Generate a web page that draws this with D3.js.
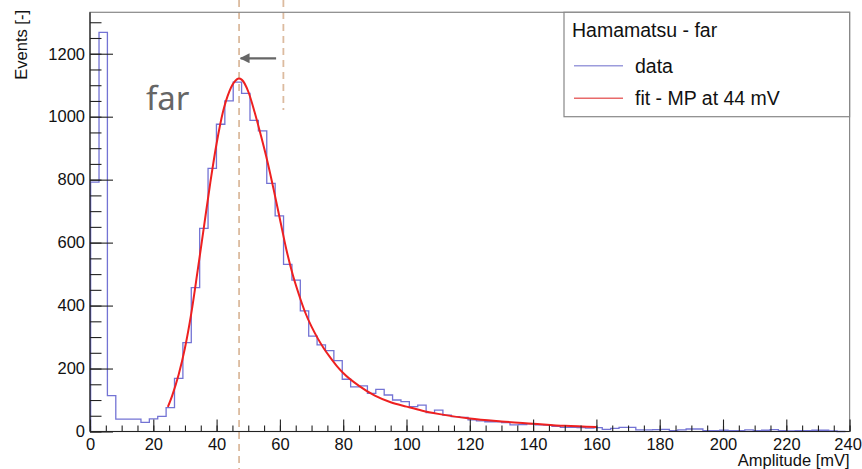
<!DOCTYPE html>
<html>
<head>
<meta charset="utf-8">
<script src="https://cdn.jsdelivr.net/npm/d3@7"></script>
<style>
  body { margin: 0; background: #fff; }
  text { font-family: "Liberation Sans", Arial, Helvetica, sans-serif; }
</style>
</head>
<body>
<script>
// histogram: bins of 2.65 mV starting at 0.2 mV
let binStart = 0.2,
    binWidth = 2.65;

let counts = [
  792, 1268, 114, 39, 39, 39, 29, 40, 48, 76,
  169, 282, 457, 645, 836, 976, 1050, 1110, 1074, 988,
  955, 788, 685, 531, 481, 383, 303, 275, 257, 225,
  166, 142, 145, 121, 134, 116, 100, 95, 79, 84,
  60, 68, 52, 47, 45, 37, 34, 31, 31, 28,
  21, 22, 24, 21, 20, 16, 13, 13, 12, 11,
  12, 7, 10, 13, 13, 5, 5, 6, 7, 3,
  5, 8, 8, 3, 3, 4, 3, 3, 5, 3,
  4, 6, 3, 2, 3, 3, 4, 4, 2, 0
];

// fit curve
let fitX = [24.6, 26, 28, 30, 32, 34, 36, 38, 40, 42, 44, 46, 47, 48, 50, 52, 54, 56, 58, 60,
            62, 64, 66, 68, 70, 72, 74, 76, 78, 80, 85, 90, 95, 100, 105, 110, 120, 130, 140, 150, 160];
let fitY = [78, 115, 180, 265, 375, 510, 650, 790, 915, 1015, 1080, 1115, 1121, 1117, 1080, 1015, 940, 860, 770, 675,
            580, 500, 435, 378, 333, 295, 262, 234, 208, 186, 145, 114, 93, 79, 66, 56, 41, 32, 25, 18, 14];

let xTicks = d3.range(0, 241, 20),
    xMinor = d3.range(0, 241, 5),
    yTicks = d3.range(0, 1201, 200),
    yMinor = d3.range(0, 1331, 50);

// markers: peak position and the old position (mV)
let markPeak = 47.1,
    markOld = 61.1;

let legendTitle = 'Hamamatsu - far',
    legendItems = ['data', 'fit - MP at 44 mV'];

let width = 862,
    height = 469,
    yMax = 1331.6;

let x = d3.scaleLinear().domain([0, 240]).range([90, 849.6]),
    y = d3.scaleLinear().domain([0, yMax]).range([431.5, 12.3]);

let svg = d3.select('body').append('svg')
    .attr('width', width)
    .attr('height', height);

// dashed marker lines
svg.append('line')
    .attr('x1', x(markPeak)).attr('x2', x(markPeak))
    .attr('y1', 0).attr('y2', height)
    .attr('stroke', '#dcbb9f').attr('stroke-width', 1.8)
    .attr('stroke-dasharray', '7,5');
svg.append('line')
    .attr('x1', x(markOld)).attr('x2', x(markOld))
    .attr('y1', 0).attr('y2', 110)
    .attr('stroke', '#dcbb9f').attr('stroke-width', 1.8)
    .attr('stroke-dasharray', '7,5');

// frame
svg.append('rect')
    .attr('x', x(0)).attr('y', y(yMax))
    .attr('width', x(240) - x(0)).attr('height', y(0) - y(yMax))
    .attr('fill', 'none').attr('stroke', '#888').attr('stroke-width', 1.2);

// histogram as a step path
let histPts = [[x(binStart), y(0)]];
counts.forEach((c, i) => {
    let lo = binStart + i * binWidth, hi = lo + binWidth;
    histPts.push([x(lo), y(c)], [x(hi), y(c)]);
});
histPts.push([x(binStart + counts.length * binWidth), y(0)]);

svg.append('path')
    .attr('d', d3.line()(histPts))
    .attr('fill', 'none')
    .attr('stroke', '#5a5acc')
    .attr('stroke-opacity', 0.85)
    .attr('stroke-width', 1.3);

// fit
svg.append('path')
    .datum(fitX.map((v, i) => [v, fitY[i]]))
    .attr('d', d3.line().x(d => x(d[0])).y(d => y(d[1])).curve(d3.curveMonotoneX))
    .attr('fill', 'none')
    .attr('stroke', '#ee2020')
    .attr('stroke-width', 2);

// axes
svg.append('g')
    .attr('transform', `translate(${x(0)},0)`)
    .call(d3.axisLeft(y).tickValues(yTicks).tickFormat(d3.format('d'))
        .tickSizeInner(-23).tickSizeOuter(0).tickPadding(5));
svg.append('g')
    .attr('transform', `translate(${x(0)},0)`)
    .call(d3.axisLeft(y).tickValues(yMinor).tickSizeInner(-11.5).tickSizeOuter(0).tickFormat(''));

let xAxis = svg.append('g')
    .attr('transform', `translate(0,${y(0)})`)
    .call(d3.axisBottom(x).tickValues(xTicks).tickFormat(d3.format('d'))
        .tickSizeInner(-12).tickSizeOuter(0).tickPadding(6.5));
svg.append('g')
    .attr('transform', `translate(0,${y(0)})`)
    .call(d3.axisBottom(x).tickValues(xMinor).tickSizeInner(-6).tickSizeOuter(0).tickFormat(''));

svg.selectAll('.tick line').attr('stroke', '#222').attr('stroke-width', 1.1);
svg.selectAll('.domain').remove();
svg.selectAll('.tick text').attr('font-size', 16.5).attr('fill', '#111')
    .style('font-family', '"Liberation Sans", Arial, sans-serif');
// last label sits right at the window edge
xAxis.selectAll('.tick text').filter(d => d === 240).attr('dx', -2);

// axis lines
svg.append('line').attr('x1', x(0)).attr('x2', x(0)).attr('y1', y(0)).attr('y2', y(yMax))
    .attr('stroke', '#222').attr('stroke-width', 1.2);
svg.append('line').attr('x1', x(0)).attr('x2', x(240)).attr('y1', y(0)).attr('y2', y(0))
    .attr('stroke', '#222').attr('stroke-width', 1.2);

// axis titles
svg.append('text')
    .attr('x', x(240)).attr('y', 466)
    .attr('text-anchor', 'end').attr('font-size', 16.5).attr('fill', '#111')
    .text('Amplitude [mV]');
svg.append('text')
    .attr('transform', 'translate(26.5,10) rotate(-90)')
    .attr('text-anchor', 'end').attr('font-size', 16.5).attr('fill', '#111')
    .text('Events [-]');

// annotation
svg.append('defs').append('marker')
    .attr('id', 'ah').attr('viewBox', '0 0 10 10')
    .attr('refX', 9).attr('refY', 5)
    .attr('markerWidth', 5).attr('markerHeight', 4.5)
    .attr('markerUnits', 'strokeWidth')
    .attr('orient', 'auto')
    .append('path').attr('d', 'M0,0L10,5L0,10Z').attr('fill', '#666');
svg.append('line')
    .attr('x1', x(58.8)).attr('x2', x(47.6))
    .attr('y1', 58.3).attr('y2', 58.3)
    .attr('stroke', '#666').attr('stroke-width', 2.2)
    .attr('marker-end', 'url(#ah)');
svg.append('text')
    .attr('x', 146).attr('y', 110)
    .attr('font-size', 33).attr('fill', '#666')
    .style('font-family', '"Noto Sans", "Open Sans", sans-serif')
    .text('far');

// legend
let lg = svg.append('g');
lg.append('rect')
    .attr('x', 564).attr('y', y(yMax))
    .attr('width', x(240) - 564).attr('height', 116.7 - y(yMax))
    .attr('fill', '#fff').attr('stroke', '#888').attr('stroke-width', 1.2);
lg.append('text')
    .attr('x', 572).attr('y', 36.7)
    .attr('font-size', 19.5).attr('fill', '#111')
    .text(legendTitle);
let legendColors = ['#9c9cdc', '#e86a6a'];
legendItems.forEach((t, i) => {
    let yy = 65.7 + i * 32.6;
    lg.append('line')
        .attr('x1', 574).attr('x2', 623).attr('y1', yy).attr('y2', yy)
        .attr('stroke', legendColors[i]).attr('stroke-width', 1.6);
    lg.append('text')
        .attr('x', 635).attr('y', yy + 7)
        .attr('font-size', 19.5).attr('fill', '#111')
        .text(t);
});
</script>
</body>
</html>
